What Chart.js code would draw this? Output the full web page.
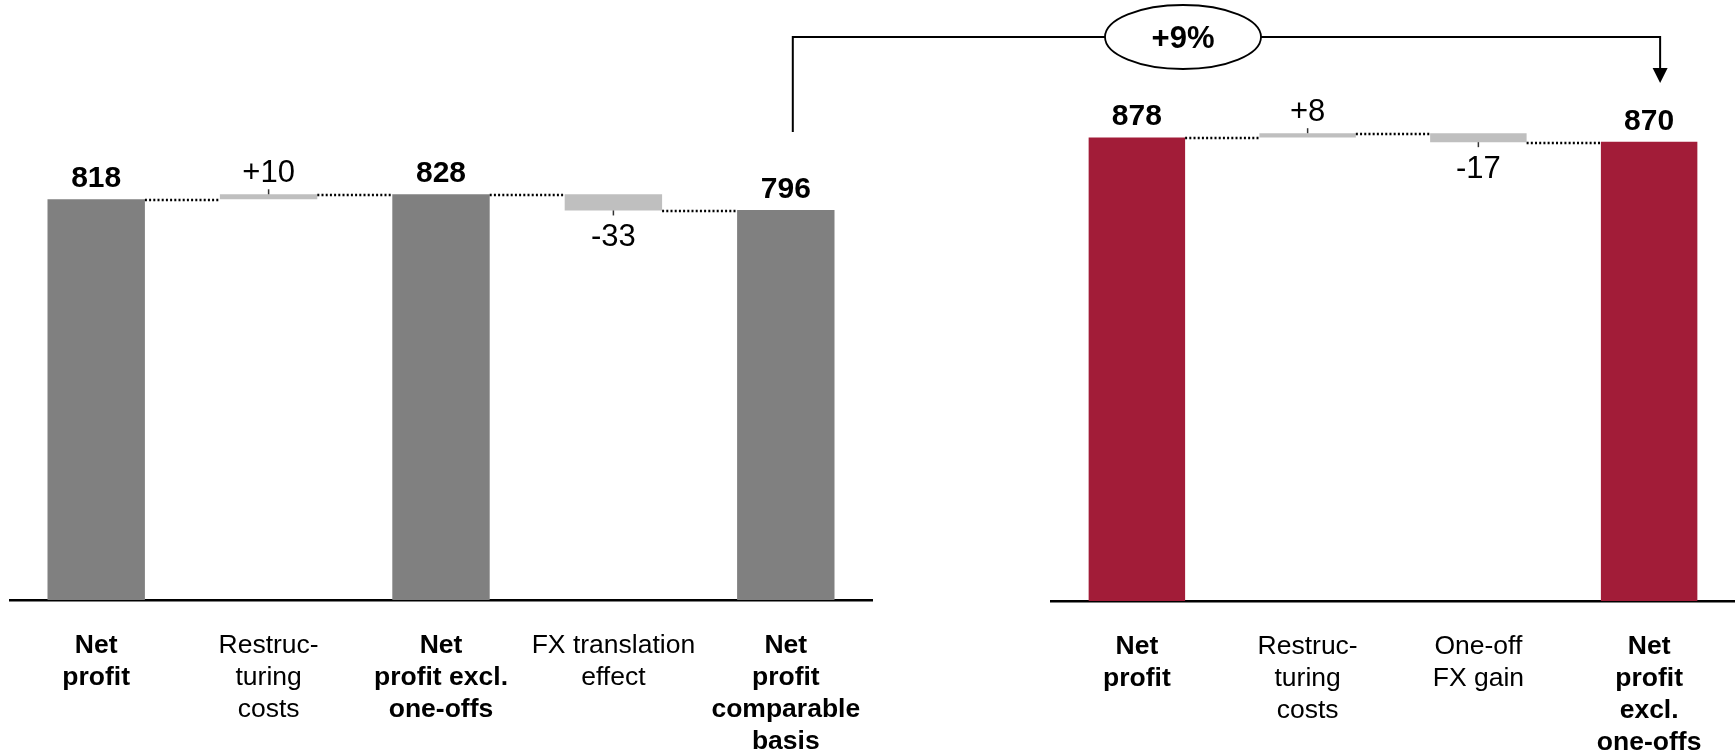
<!DOCTYPE html>
<html>
<head>
<meta charset="utf-8">
<script src="https://cdn.jsdelivr.net/npm/chart.js@4.4.0/dist/chart.umd.min.js"></script>
<style>
body { margin: 0; background: #fff; }
#wrap { position: relative; width: 1736px; height: 755px; overflow: hidden; }
canvas { position: absolute; top: 0; }
#left { left: 0; }
#right { left: 1040px; }
#overlay { left: 0; pointer-events: none; }
</style>
</head>
<body>
<div id="wrap">
  <canvas id="left" width="880" height="755"></canvas>
  <canvas id="right" width="696" height="755"></canvas>
  <canvas id="overlay" width="1736" height="755"></canvas>
</div>
<script>
// left panel
const leftLabels = [['Net', 'profit'], ['Restruc-', 'turing', 'costs'], ['Net', 'profit excl.', 'one-offs'], ['FX translation', 'effect'], ['Net', 'profit', 'comparable', 'basis']];
const leftTotals = [818, null, 828, null, 796];
const leftChanges = [null, 10, null, -33, null];

// right panel
const rightLabels = [['Net', 'profit'], ['Restruc-', 'turing', 'costs'], ['One-off', 'FX gain'], ['Net', 'profit', 'excl.', 'one-offs']];
const rightTotals = [878, null, null, 870];
const rightChanges = [null, 8, -17, null];

const growthLabel = '+9%';

const GREY = '#808080';
const RED = '#A21C38';
const LIGHT = '#BFBFBF';
const FONT = "'Liberation Sans', Arial, sans-serif";

Chart.defaults.font.family = FONT;
Chart.defaults.color = '#000';

// turn totals + changes into floating bars
function buildWaterfall(totals, changes) {
  const bars = [], levels = [];
  let level = 0;
  totals.forEach((t, i) => {
    if (t !== null) {
      bars.push([0, t]);
      level = t;
    } else {
      bars.push([level, level + changes[i]]);
      level += changes[i];
    }
    levels.push(level);
  });
  return { bars, levels };
}

const waterfallPlugin = {
  id: 'waterfall',
  afterDatasetsDraw(chart, args, opts) {
    const ctx = chart.ctx;
    const meta = chart.getDatasetMeta(0);
    const y = chart.scales.y;
    ctx.save();

    // dotted connectors between bars
    ctx.setLineDash([2, 2.2]);
    ctx.lineWidth = 2.5;
    ctx.strokeStyle = '#000';
    for (let i = 0; i < meta.data.length - 1; i++) {
      const a = meta.data[i], b = meta.data[i + 1];
      const py = Math.round(y.getPixelForValue(opts.levels[i])) + 1;
      ctx.beginPath();
      ctx.moveTo(a.x + a.width / 2, py);
      ctx.lineTo(b.x - b.width / 2, py);
      ctx.stroke();
    }
    ctx.setLineDash([]);

    // value labels
    ctx.textAlign = 'center';
    ctx.textBaseline = 'alphabetic';
    meta.data.forEach((bar, i) => {
      const top = Math.min(bar.y, bar.base);
      const bottom = Math.max(bar.y, bar.base);
      if (opts.totals[i] !== null) {
        ctx.font = 'bold 30px ' + FONT;
        ctx.fillStyle = '#000';
        ctx.fillText(String(opts.totals[i]), bar.x, top - 12);
      } else {
        const v = opts.changes[i];
        ctx.font = '31px ' + FONT;
        ctx.fillStyle = '#000';
        ctx.strokeStyle = '#333';
        ctx.lineWidth = 1.5;
        ctx.beginPath();
        if (v >= 0) {
          ctx.moveTo(bar.x, top);
          ctx.lineTo(bar.x, top - 5);
          ctx.stroke();
          ctx.fillText('+' + v, bar.x, top - 12.5);
        } else {
          ctx.moveTo(bar.x, bottom);
          ctx.lineTo(bar.x, bottom + 5);
          ctx.stroke();
          ctx.fillText(String(v), bar.x, bottom + 36);
        }
      }
    });
    ctx.restore();
  }
};

function makeChart(id, labels, totals, changes, totalColor, padding, axisHeight) {
  const wf = buildWaterfall(totals, changes);
  return new Chart(document.getElementById(id).getContext('2d'), {
    type: 'bar',
    data: {
      labels: labels,
      datasets: [{
        data: wf.bars,
        backgroundColor: totals.map(t => t !== null ? totalColor : LIGHT),
        borderWidth: 0,
        borderSkipped: false,
        barPercentage: 0.565,
        categoryPercentage: 1
      }]
    },
    options: {
      responsive: false,
      devicePixelRatio: 1,
      animation: false,
      layout: { padding: padding },
      plugins: {
        legend: { display: false },
        tooltip: { enabled: false },
        waterfall: { totals: totals, changes: changes, levels: wf.levels }
      },
      scales: {
        x: {
          grid: { display: false },
          border: { display: true, color: '#000', width: 2.5 },
          afterFit: scale => {
            scale.height = axisHeight;
            scale.paddingLeft = 0;
            scale.paddingRight = 0;
          },
          ticks: {
            autoSkip: false,
            maxRotation: 0,
            padding: 22,
            color: '#000',
            font: c => ({
              size: 26.5,
              lineHeight: '32px',
              weight: totals[c.index] !== null ? 'bold' : 'normal'
            })
          }
        },
        y: { display: false, min: 0, max: 1000 }
      }
    },
    plugins: [waterfallPlugin]
  });
}

const leftChart = makeChart('left', leftLabels, leftTotals, leftChanges, GREY,
  { left: 10, right: 8, top: 110, bottom: 0 }, 155);
const rightChart = makeChart('right', rightLabels, rightTotals, rightChanges, RED,
  { left: 11.5, right: 1.5, top: 73, bottom: 0 }, 154);

// growth bracket from comparable basis to excl. one-offs
function drawBracket() {
  const o = document.getElementById('overlay').getContext('2d');
  const from = leftChart.getDatasetMeta(0).data[leftTotals.length - 1];
  const to = rightChart.getDatasetMeta(0).data[rightTotals.length - 1];
  const x1 = from.x + 7;
  const x2 = 1040 + to.x + 11;
  const lineY = 37;
  const cx = 1183, rx = 78, ry = 32;

  o.strokeStyle = '#000';
  o.lineWidth = 2;
  o.beginPath();
  o.moveTo(x1, 132);
  o.lineTo(x1, lineY);
  o.lineTo(cx - rx, lineY);
  o.moveTo(cx + rx, lineY);
  o.lineTo(x2, lineY);
  o.lineTo(x2, 69);
  o.stroke();

  o.fillStyle = '#000';
  o.beginPath();
  o.moveTo(x2 - 7.5, 68);
  o.lineTo(x2 + 7.5, 68);
  o.lineTo(x2, 83);
  o.closePath();
  o.fill();

  o.lineWidth = 1.8;
  o.beginPath();
  o.ellipse(cx, lineY, rx, ry, 0, 0, Math.PI * 2);
  o.fillStyle = '#fff';
  o.fill();
  o.stroke();

  o.fillStyle = '#000';
  o.font = 'bold 31px ' + FONT;
  o.textAlign = 'center';
  o.textBaseline = 'alphabetic';
  o.fillText(growthLabel, cx, lineY + 11);
}
drawBracket();
</script>
</body>
</html>
